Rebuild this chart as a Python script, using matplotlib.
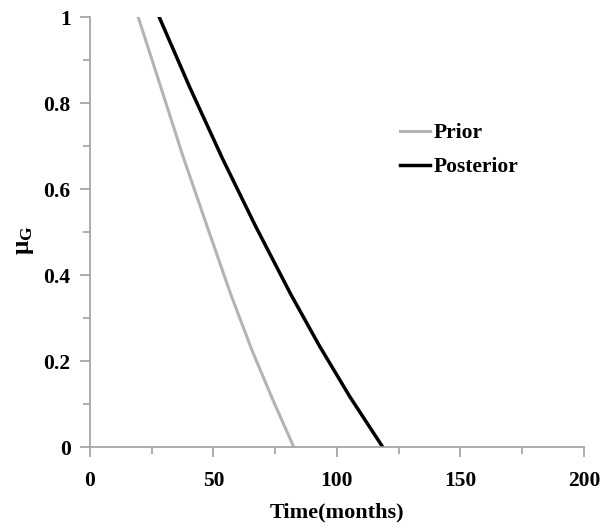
import numpy as np
import matplotlib.pyplot as plt
from matplotlib.ticker import MultipleLocator

# values
prior_t = [19.5, 28.5, 37.7, 47.3, 57, 65.5, 74, 82.5]
prior_mu = [1.0, 0.84, 0.675, 0.515, 0.355, 0.226, 0.11, 0.0]
post_t = [28, 40.5, 53.7, 66.9, 81.3, 92.9, 105.2, 118.5]
post_mu = [1.0, 0.835, 0.67, 0.515, 0.355, 0.235, 0.117, 0.0]

xticks = [0, 50, 100, 150, 200]
yticks = [0, 0.2, 0.4, 0.6, 0.8, 1.0]
ytick_labels = ['0', '0.2', '0.4', '0.6', '0.8', '1']

plt.rcParams['font.family'] = 'Liberation Serif'
plt.rcParams['font.weight'] = 'bold'
plt.rcParams['mathtext.default'] = 'regular'

fig = plt.figure(figsize=(6.11, 5.28), dpi=100)
ax = fig.add_axes([0.1473, 0.1534, 0.8085, 0.8144])

ax.plot(prior_t, prior_mu, color='#b4b4b4', lw=2.2, label='Prior')
ax.plot(post_t, post_mu, color='black', lw=2.5, label='Posterior')

ax.set_xlim(0, 200)
ax.set_ylim(0, 1)
ax.set_xticks(xticks)
ax.set_yticks(yticks)
ax.set_yticklabels(ytick_labels)
ax.xaxis.set_minor_locator(MultipleLocator(25))
ax.yaxis.set_minor_locator(MultipleLocator(0.1))

for s in ['top', 'right']:
    ax.spines[s].set_visible(False)
for s in ['left', 'bottom']:
    ax.spines[s].set_color('#a0a0a0')
    ax.spines[s].set_linewidth(1.2)

ax.tick_params(which='major', direction='out', length=7, width=1.2, color='#a0a0a0',
               labelsize=15.5)
ax.tick_params(which='minor', direction='out', length=5, width=1.2, color='#a0a0a0')
ax.tick_params(axis='x', which='major', pad=10)
ax.tick_params(axis='y', which='major', pad=7)

ax.set_xlabel('Time(months)', fontsize=16, fontweight='bold')
ax.xaxis.set_label_coords(0.5, -0.13)
ax.set_ylabel('$μ_G$', fontsize=18, fontweight='bold')
ax.yaxis.set_label_coords(-0.109, 0.48)

ax.legend(loc='center left', bbox_to_anchor=(0.628, 0.69), frameon=False,
          fontsize=15.5, handlelength=1.4, handletextpad=0.15, labelspacing=0.65,
          borderpad=0, borderaxespad=0)

plt.savefig('out.png', dpi=100)
